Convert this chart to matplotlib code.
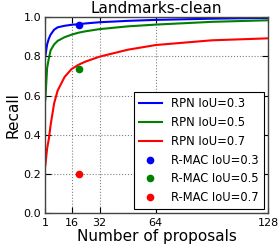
import matplotlib
matplotlib.use('Agg')
import matplotlib.pyplot as plt

# number of proposals and recall values
proposals = [1, 2, 3, 4, 6, 8, 12, 16, 20, 24, 32, 48, 64, 96, 128]
rpn_03 = [0.80, 0.86, 0.89, 0.91, 0.935, 0.947, 0.955, 0.96, 0.963, 0.967,
          0.973, 0.980, 0.985, 0.991, 0.995]
rpn_05 = [0.58, 0.74, 0.79, 0.83, 0.86, 0.878, 0.897, 0.91, 0.92, 0.927,
          0.938, 0.952, 0.961, 0.975, 0.983]
rpn_07 = [0.245, 0.33, 0.38, 0.45, 0.56, 0.625, 0.695, 0.735, 0.757, 0.773,
          0.798, 0.833, 0.857, 0.881, 0.891]

rmac_x = 20
rmac_03 = 0.961
rmac_05 = 0.733
rmac_07 = 0.203

xticks = [1, 16, 32, 64, 128]
yticks = [0.0, 0.2, 0.4, 0.6, 0.8, 1.0]

fig = plt.figure(figsize=(2.8, 2.49), dpi=100)
ax = fig.add_axes([0.162, 0.143, 0.795, 0.789])

ax.plot(proposals, rpn_03, color='b', lw=1.5, label='RPN IoU=0.3')
ax.plot(proposals, rpn_05, color='g', lw=1.5, label='RPN IoU=0.5')
ax.plot(proposals, rpn_07, color='r', lw=1.5, label='RPN IoU=0.7')
ax.plot([rmac_x], [rmac_03], 'o', color='b', ms=4.5, mec='b', label='R-MAC IoU=0.3')
ax.plot([rmac_x], [rmac_05], 'o', color='g', ms=4.5, mec='g', label='R-MAC IoU=0.5')
ax.plot([rmac_x], [rmac_07], 'o', color='r', ms=4.5, mec='r', label='R-MAC IoU=0.7')

ax.set_xlim(1, 128)
ax.set_ylim(0, 1.0)
ax.set_xticks(xticks)
ax.set_yticks(yticks)
ax.tick_params(direction='in', top=True, right=True, labelsize=8, length=4, pad=3)
ax.grid(True, linestyle=':', color='gray', linewidth=0.8)
for s in ax.spines.values():
    s.set_color('#444444')
    s.set_linewidth(1.0)

ax.set_title('Landmarks-clean', fontsize=11, pad=3)
ax.set_xlabel('Number of proposals', fontsize=11, labelpad=1)
ax.set_ylabel('Recall', fontsize=11, labelpad=2)

leg = ax.legend(loc='lower right', fontsize=8.3, numpoints=1, fancybox=False,
                framealpha=1, edgecolor='k', borderaxespad=0.35, handlelength=2.0,
                borderpad=0.45, labelspacing=0.5)
leg.get_frame().set_linewidth(0.8)

fig.savefig('out.png', dpi=100)
